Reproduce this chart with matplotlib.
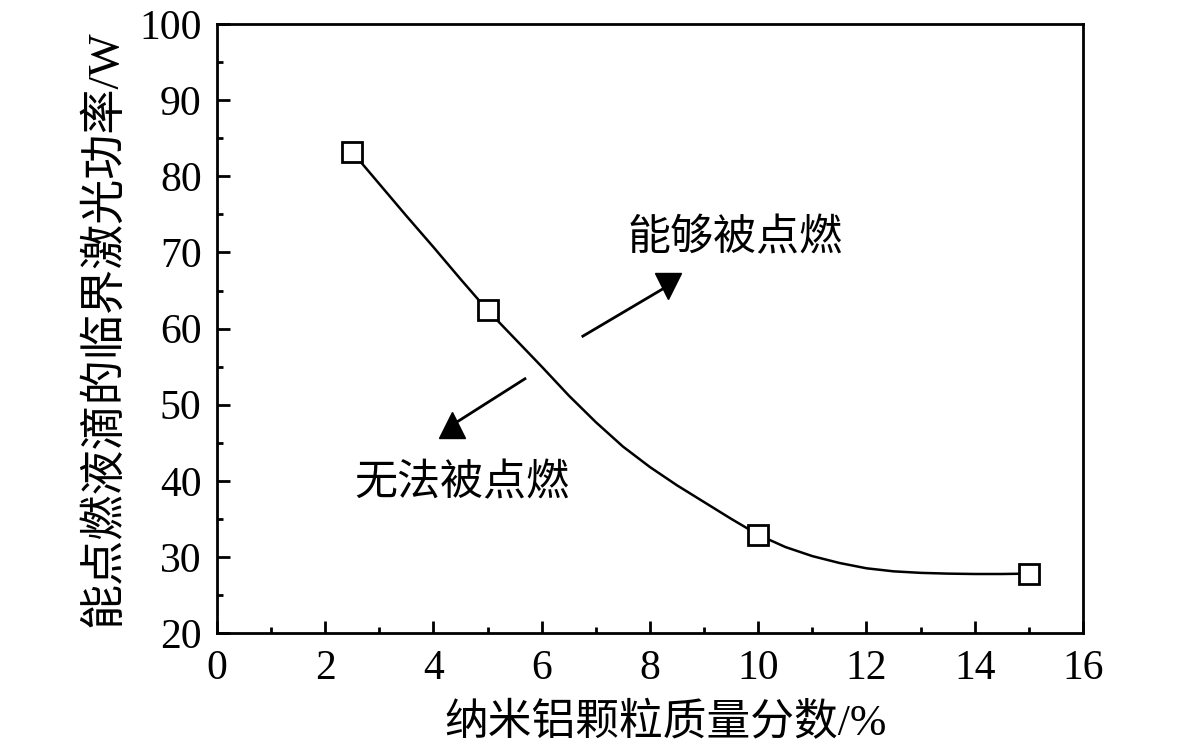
import matplotlib
matplotlib.use("Agg")
import matplotlib.pyplot as plt
from matplotlib.ticker import MultipleLocator

# measured points
mass_frac = [2.5, 5, 10, 15]
laser_power = [83.2, 62.4, 32.9, 27.8]

# smooth fitted curve
curve_x = [2.5, 3.0, 3.5, 4.0, 4.5, 5.0, 5.5, 6.0, 6.5, 7.0, 7.5, 8.0, 8.5,
           9.0, 9.5, 10.0, 10.5, 11.0, 11.5, 12.0, 12.5, 13.0, 13.5, 14.0,
           14.5, 15.0]
curve_y = [83.2, 79.0, 74.8, 70.7, 66.5, 62.4, 58.7, 55.0, 51.2, 47.7, 44.5,
           41.8, 39.4, 37.2, 35.0, 32.9, 31.3, 30.1, 29.2, 28.5, 28.1, 27.9,
           27.8, 27.75, 27.75, 27.8]

serif_cjk = ['Liberation Serif', 'Noto Sans CJK SC']
plt.rcParams['font.family'] = serif_cjk

fig = plt.figure(figsize=(11.81, 7.54), dpi=100)
ax = fig.add_axes([0.1837, 0.1605, 0.917 - 0.1837, 0.968 - 0.1605])

ax.plot(curve_x, curve_y, color='black', linewidth=1.8, zorder=2)
ax.plot(mass_frac, laser_power, linestyle='none', marker='s', markersize=14.5,
        markerfacecolor='white', markeredgecolor='black', markeredgewidth=2,
        zorder=3)

# region arrows (Origin style: upright triangle heads)
ax.plot([6.76, 8.33], [59.0, 65.6], color='black', linewidth=2)
ax.plot([8.33], [65.6], marker='v', markersize=19, color='black')
ax.plot([5.69, 4.34], [53.4, 47.3], color='black', linewidth=2)
ax.plot([4.34], [47.3], marker='^', markersize=19, color='black')

ax.text(9.57, 71.9, '能够被点燃', fontsize=31, ha='center', va='center',
        family=['Noto Sans CJK SC'])
ax.text(4.53, 39.7, '无法被点燃', fontsize=31, ha='center', va='center',
        family=['Noto Sans CJK SC'])

ax.set_xlim(0, 16)
ax.set_ylim(20, 100)
ax.xaxis.set_major_locator(MultipleLocator(2))
ax.xaxis.set_minor_locator(MultipleLocator(1))
ax.yaxis.set_major_locator(MultipleLocator(10))
ax.yaxis.set_minor_locator(MultipleLocator(5))

for s in ax.spines.values():
    s.set_linewidth(2)
ax.tick_params(which='both', direction='in', top=False, right=False,
               labelsize=30, width=2)
ax.tick_params(which='major', length=9)
ax.tick_params(axis='x', which='major', pad=12)
ax.tick_params(axis='y', which='major', pad=11)
ax.tick_params(which='minor', length=4)

ax.set_xlabel('纳米铝颗粒质量分数/%', fontsize=31.5, labelpad=8)
ax.set_ylabel('能点燃液滴的临界激光功率/W', fontsize=32.5, labelpad=10)
ax.xaxis.set_label_coords(0.518, -0.115)

fig.savefig('out.png', dpi=100)
